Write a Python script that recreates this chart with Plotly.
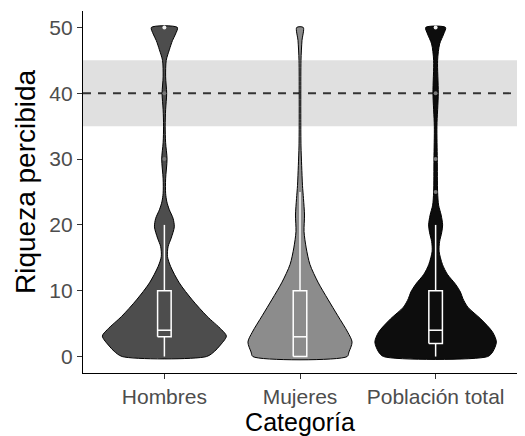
import plotly.graph_objects as go

categorias = ["Hombres", "Mujeres", "Población total"]
colores = ["#4d4d4d", "#8c8c8c", "#0d0d0d"]

# violin profiles: y level and relative density (max = 100)
hom_y = [0, 0.8, 1.6, 3.1, 4.1, 6.1, 8.6, 11.2, 13.7, 15.2, 16.7, 18, 19.7, 21, 22.3, 23.5, 24.8, 27, 30, 32.5, 35, 37.5, 40, 42.5, 45, 46.6, 48, 49, 50]
hom_d = [68, 81, 89, 100, 92, 69, 45, 24, 10, 5, 6, 11, 16, 14, 8, 4, 2, 2, 4.3, 2, 1.3, 2, 3.7, 2, 3, 8, 13, 18, 21]
muj_y = [0, 0.7, 2.2, 3.7, 6.2, 8.7, 11.3, 14, 16.5, 19, 21.5, 24, 26, 29, 32, 36, 40, 45, 48, 50]
muj_d = [76, 79, 84, 77, 61, 45, 29, 16, 10, 6.5, 7.3, 5.6, 4, 2.7, 1.6, 1.3, 1.3, 1.6, 3.2, 5.3]
pob_y = [0, 0.7, 2.2, 3.7, 5.7, 7.5, 8.8, 9.8, 11, 12.5, 14, 16, 17.5, 18.8, 20, 21.5, 23, 25, 30, 35, 40, 45, 47.5, 49, 50]
pob_d = [84, 92, 98, 92, 73, 52, 44, 40, 32, 19, 11, 5.6, 6.5, 9.7, 11.3, 8.9, 4.8, 3.2, 2.7, 2.1, 4.3, 3.2, 6.5, 13, 16]

# box summaries: q1, median, q3, lower whisker, upper whisker
q1 = [3, 0, 2]
mediana = [4, 3, 4]
q3 = [10, 10, 10]
bigote_inf = [0, 0, 0]
bigote_sup = [20, 25, 20]

# outliers shown as points
out_hom = [30, 40, 50]
out_pob = [25, 30, 40, 50]

# reference band
banda = [35, 45]
referencia = 40

perfiles = [(hom_y, hom_d), (muj_y, muj_d), (pob_y, pob_d)]
MAXHW = 0.457
BOXHW = 0.05

fig = go.Figure()

for i, (ys, ds) in enumerate(perfiles):
    c = i + 1
    left = [c - d / 100 * MAXHW for d in ds]
    right = [c + d / 100 * MAXHW for d in ds]
    xs = left + right[::-1] + [left[0]]
    yy = ys + ys[::-1] + [ys[0]]
    fig.add_trace(go.Scatter(x=xs, y=yy, mode="lines", fill="toself",
                             fillcolor=colores[i],
                             line=dict(color="black", width=1, shape="spline", smoothing=0.8),
                             hoverinfo="skip", showlegend=False))

# boxplots (drawn as lines from the summary stats so they sit above the violins)
for i in range(3):
    c = i + 1
    xl, xr = c - BOXHW, c + BOXHW
    bx = [xl, xr, xr, xl, xl, None, xl, xr, None, c, c, None, c, c]
    by = [q1[i], q1[i], q3[i], q3[i], q1[i], None, mediana[i], mediana[i], None,
          q3[i], bigote_sup[i], None, q1[i], bigote_inf[i]]
    fig.add_trace(go.Scatter(x=bx, y=by, mode="lines", line=dict(color="white", width=1.5),
                             hoverinfo="skip", showlegend=False))

for c, outs in [(1, out_hom), (3, out_pob)]:
    cols = ["#f0f0f0" if v == 50 else "#777777" for v in outs]
    fig.add_trace(go.Scatter(x=[c] * len(outs), y=outs, mode="markers",
                             marker=dict(color=cols, size=4),
                             hoverinfo="skip", showlegend=False))

fig.add_shape(type="rect", xref="paper", yref="y", x0=0, x1=1, y0=banda[0], y1=banda[1],
              fillcolor="#e0e0e0", line=dict(width=0), layer="below")
fig.add_shape(type="line", xref="paper", yref="y", x0=0, x1=1, y0=referencia, y1=referencia,
              line=dict(color="#333333", width=1.8, dash="8px,7px"), layer="below")

fig.add_annotation(text="Riqueza percibida", textangle=-90, xref="paper", yref="paper",
                   x=-0.1336, y=0.5276, xanchor="center", yanchor="middle", showarrow=False,
                   font=dict(size=28, color="black"), borderpad=0)

fig.update_layout(
    width=517, height=428,
    margin=dict(l=75, r=8, t=3, b=63),
    plot_bgcolor="white", paper_bgcolor="white",
    font=dict(family="Liberation Sans, Arial, sans-serif"),
    xaxis=dict(range=[0.4, 3.6], tickvals=[1, 2, 3], ticktext=categorias, automargin=False,
               showgrid=False, zeroline=False, showline=True, linecolor="black", linewidth=1.3,
               ticks="outside", ticklen=5, tickcolor="#333333",
               tickfont=dict(size=21, color="#4d4d4d"),
               title=dict(text="Categoría", font=dict(size=25, color="black"), standoff=2)),
    yaxis=dict(range=[-2.5, 52.5], tickvals=[0, 10, 20, 30, 40, 50], automargin=False,
               showgrid=False, zeroline=False, showline=True, linecolor="black", linewidth=1.3,
               ticks="outside", ticklen=5, tickcolor="#333333",
               tickfont=dict(size=21, color="#4d4d4d")),
)

fig.write_html("out.html")
